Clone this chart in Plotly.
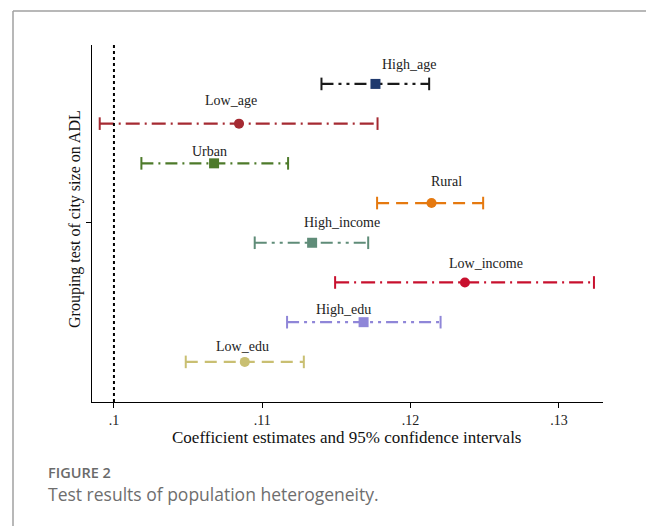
import plotly.graph_objects as go

groups = ["High_age", "Low_age", "Urban", "Rural", "High_income", "Low_income", "High_edu", "Low_edu"]
coef = [0.11763, 0.10843, 0.10675, 0.12141, 0.11336, 0.12366, 0.11683, 0.10882]
ci_low = [0.11399, 0.09904, 0.10185, 0.11774, 0.10949, 0.11491, 0.11167, 0.10484]
ci_high = [0.12125, 0.11777, 0.11174, 0.12489, 0.11714, 0.13236, 0.12202, 0.11280]
x_ticks = [0.10, 0.11, 0.12, 0.13]
x_tick_labels = [".1", ".11", ".12", ".13"]

line_colors = ["#1a1a1a", "#a52a32", "#4d7a2a", "#e5790f", "#5f8c78", "#c8102e", "#8f86d8", "#c9bf72"]
marker_colors = ["#1f3a6e", "#a52a32", "#4d7a2a", "#e5790f", "#5f8c78", "#c8102e", "#8f86d8", "#c9bf72"]
symbols = ["square", "circle", "square", "circle", "square", "circle", "square", "circle"]
dashes = ["12px,5px,3px,5px,3px,5px", "14px,5px,2px,5px", "12px,5px,2px,5px", "12px,7px",
          "12px,5px,3px,5px,3px,5px", "14px,5px,2px,5px", "12px,5px,3px,5px,3px,5px", "12px,7px"]
label_xshift = [34, -8, -5, 15, 30, 21, -20, -2]
label_yshift = [19, 23, 12, 22, 20, 19, 13, 15]

SERIF = "Liberation Serif, Times New Roman, serif"

# page has an 8px body margin: figure coords = reference coords - 8
OFF = 8
W, H = 654 - OFF, 526 - OFF
L = 92 - OFF
R = W - (603 - OFF)
T = 45 - OFF
B = H - (402 - OFF)
pw, ph = W - L - R, H - T - B


def px2x(px):
    return (px - OFF - L) / pw


def py2y(py):
    return (H - B - (py - OFF)) / ph


fig = go.Figure()
rows = list(range(1, len(groups) + 1))
for i, g in enumerate(groups):
    y = rows[i]
    fig.add_trace(go.Scatter(
        x=[ci_low[i], ci_high[i]], y=[y, y], mode="lines",
        line=dict(color=line_colors[i], width=2.2, dash=dashes[i]),
        hoverinfo="skip", showlegend=False))
    fig.add_trace(go.Scatter(
        x=[ci_low[i], ci_high[i]], y=[y, y], mode="markers",
        marker=dict(symbol="line-ns", size=9, line=dict(color=line_colors[i], width=2)),
        hoverinfo="skip", showlegend=False))
    fig.add_trace(go.Scatter(
        x=[coef[i]], y=[y], mode="markers",
        marker=dict(symbol=symbols[i], size=10, color=marker_colors[i], line=dict(width=0)),
        name=g, showlegend=False))
    fig.add_annotation(x=coef[i], y=y, text=g, showarrow=False,
                       xshift=label_xshift[i], yshift=label_yshift[i],
                       font=dict(family=SERIF, size=14, color="#222222"))

# reference line at 0.1
fig.add_shape(type="line", x0=0.1, x1=0.1, y0=0, y1=1, xref="x", yref="paper",
              line=dict(color="black", width=2, dash="dot"))

# outer frame (left and top)
fig.add_shape(type="line", xref="paper", yref="paper", x0=px2x(13), x1=px2x(13), y0=py2y(11), y1=py2y(540),
              line=dict(color="#a0a0a0", width=1.5))
fig.add_shape(type="line", xref="paper", yref="paper", x0=px2x(13), x1=px2x(670), y0=py2y(11), y1=py2y(11),
              line=dict(color="#a0a0a0", width=1.5))

# axis titles
fig.add_annotation(xref="paper", yref="paper", x=px2x(346), y=py2y(437),
                   text="Coefficient estimates and 95% confidence intervals", showarrow=False,
                   xanchor="center", yanchor="middle", font=dict(family=SERIF, size=17, color="#111"))
fig.add_annotation(xref="paper", yref="paper", x=px2x(75), y=py2y(219),
                   text="Grouping test of city size on ADL", showarrow=False, textangle=-90,
                   xanchor="center", yanchor="middle", font=dict(family=SERIF, size=16, color="#111"))

# caption
fig.add_annotation(xref="paper", yref="paper", x=px2x(46), y=py2y(472), text="FIGURE 2", showarrow=False,
                   xanchor="left", yanchor="middle",
                   font=dict(family="Open Sans", size=14.5, color="#6a6a6a", weight=600))
fig.add_annotation(xref="paper", yref="paper", x=px2x(46), y=py2y(494),
                   text="Test results of population heterogeneity.",
                   showarrow=False, xanchor="left", yanchor="middle",
                   font=dict(family="Open Sans", size=17.5, color="#6e6e6e"))

fig.update_layout(
    width=W, height=H, margin=dict(l=L, r=R, t=T, b=B),
    paper_bgcolor="white", plot_bgcolor="white",
)
fig.update_xaxes(range=[0.09852, 0.13297], tickvals=x_ticks, ticktext=x_tick_labels,
                 showline=True, linecolor="black", linewidth=1.2, ticks="outside", ticklen=5, tickcolor="black",
                 showgrid=False, zeroline=False, tickfont=dict(family=SERIF, size=14, color="#222"))
fig.update_yaxes(range=[9.01, 0.02], tickvals=[4.5], ticktext=[""],
                 showline=True, linecolor="black", linewidth=1.2, ticks="outside", ticklen=5, tickcolor="black",
                 showgrid=False, zeroline=False)

fig.write_html("out.html")
